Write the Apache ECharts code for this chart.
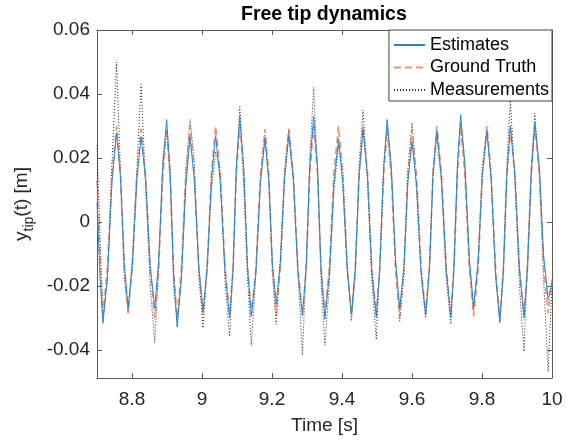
<!DOCTYPE html>
<html>
<head>
<meta charset="utf-8">
<script src="https://cdn.jsdelivr.net/npm/echarts@6/dist/echarts.min.js"></script>
<style>html,body{margin:0;padding:0;background:#fff;}#c{width:569px;height:440px;}</style>
</head>
<body>
<div id="c"></div>
<script>
const times = [8.700, 8.709, 8.717, 8.730, 8.743, 8.756, 8.767, 8.778, 8.789, 8.801, 8.814, 8.826, 8.839, 8.852, 8.865, 8.876, 8.888, 8.899, 8.909, 8.919, 8.929, 8.941, 8.954, 8.966, 8.978, 8.991, 9.003, 9.015, 9.027, 9.039, 9.052, 9.066, 9.079, 9.089, 9.098, 9.108, 9.119, 9.130, 9.141, 9.154, 9.167, 9.180, 9.191, 9.201, 9.212, 9.224, 9.236, 9.248, 9.261, 9.274, 9.287, 9.298, 9.308, 9.319, 9.330, 9.340, 9.351, 9.364, 9.377, 9.390, 9.402, 9.415, 9.427, 9.438, 9.449, 9.460, 9.473, 9.485, 9.498, 9.508, 9.519, 9.529, 9.541, 9.553, 9.565, 9.577, 9.588, 9.600, 9.613, 9.626, 9.639, 9.650, 9.660, 9.671, 9.684, 9.698, 9.711, 9.720, 9.730, 9.739, 9.751, 9.764, 9.776, 9.789, 9.801, 9.814, 9.826, 9.839, 9.851, 9.861, 9.871, 9.881, 9.894, 9.907, 9.920, 9.930, 9.941, 9.951, 9.964, 9.976, 9.989, 10.000];

const estimates = [0.006, -0.018, -0.0317, -0.0168, 0.0129, 0.0278, 0.0141, -0.0133, -0.027, -0.0136, 0.0132, 0.0266, 0.0132, -0.0136, -0.027, -0.0123, 0.0173, 0.032, 0.0158, -0.0167, -0.0329, -0.0180, 0.0117, 0.0266, 0.0130, -0.0144, -0.028, -0.0143, 0.0133, 0.027, 0.0128, -0.0158, -0.030, -0.0143, 0.0173, 0.033, 0.0174, -0.0140, -0.0296, -0.0157, 0.0121, 0.026, 0.0131, -0.0127, -0.0256, -0.0125, 0.0139, 0.027, 0.0129, -0.0153, -0.0294, -0.0138, 0.0174, 0.033, 0.0172, -0.0146, -0.0304, -0.0163, 0.0119, 0.026, 0.0123, -0.0153, -0.029, -0.0145, 0.0145, 0.029, 0.0143, -0.0151, -0.0298, -0.0144, 0.0166, 0.032, 0.0173, -0.0123, -0.027, -0.014, 0.012, 0.025, 0.0115, -0.0155, -0.029, -0.0146, 0.0142, 0.0286, 0.014, -0.0152, -0.0298, -0.0140, 0.0177, 0.0335, 0.0185, -0.0115, -0.0265, -0.0128, 0.0147, 0.0284, 0.0134, -0.0165, -0.0315, -0.0161, 0.0146, 0.030, 0.015, -0.015, -0.030, -0.0148, 0.0158, 0.031, 0.0172, -0.0104, -0.0242, -0.019];

const groundTruth = [0.013, -0.012, -0.029, -0.0143, 0.0153, 0.030, 0.0154, -0.0139, -0.0286, -0.0142, 0.0146, 0.029, 0.0142, -0.0152, -0.030, -0.0152, 0.0143, 0.029, 0.0142, -0.0152, -0.030, -0.015, 0.015, 0.030, 0.0152, -0.0142, -0.029, -0.0143, 0.0153, 0.030, 0.0153, -0.0143, -0.029, -0.0143, 0.0153, 0.030, 0.0153, -0.0143, -0.029, -0.0145, 0.0145, 0.029, 0.0145, -0.0145, -0.029, -0.0145, 0.0145, 0.029, 0.0145, -0.0145, -0.029, -0.0143, 0.0153, 0.030, 0.0153, -0.0143, -0.029, -0.0143, 0.0153, 0.030, 0.0153, -0.0143, -0.029, -0.0143, 0.0153, 0.030, 0.0153, -0.0143, -0.029, -0.0145, 0.0145, 0.029, 0.0143, -0.0151, -0.0298, -0.0151, 0.0143, 0.029, 0.0145, -0.0145, -0.029, -0.0143, 0.0153, 0.030, 0.0153, -0.0143, -0.029, -0.0143, 0.0153, 0.030, 0.0151, -0.0146, -0.0295, -0.0146, 0.0151, 0.030, 0.015, -0.015, -0.030, -0.0152, 0.0142, 0.029, 0.0145, -0.0145, -0.029, -0.0143, 0.0153, 0.030, 0.0154, -0.0136, -0.0285, -0.018];

const measurements = [0.024, -0.006, -0.030, -0.018, 0.019, 0.050, 0.016, -0.018, -0.028, -0.011, 0.017, 0.043, 0.011, -0.020, -0.0377, -0.015, 0.020, 0.029, 0.013, -0.020, -0.031, -0.017, 0.016, 0.032, 0.019, -0.017, -0.0332, -0.012, 0.010, 0.022, 0.016, -0.019, -0.0358, -0.013, 0.015, 0.036, 0.013, -0.017, -0.0387, -0.016, 0.013, 0.027, 0.012, -0.015, -0.032, -0.011, 0.016, 0.029, 0.015, -0.016, -0.0416, -0.012, 0.020, 0.042, 0.016, -0.018, -0.0386, -0.019, 0.010, 0.024, 0.016, -0.013, -0.031, -0.017, 0.018, 0.035, 0.012, -0.018, -0.0367, -0.013, 0.018, 0.030, 0.015, -0.011, -0.031, -0.016, 0.016, 0.031, 0.010, -0.017, -0.030, -0.013, 0.016, 0.027, 0.012, -0.018, -0.032, -0.012, 0.019, 0.031, 0.017, -0.014, -0.028, -0.011, 0.017, 0.029, 0.015, -0.018, -0.031, -0.014, 0.018, 0.038, 0.013, -0.020, -0.0405, -0.011, 0.018, 0.034, 0.014, -0.018, -0.0468, -0.020];

const xTicks = [8.8, 9, 9.2, 9.4, 9.6, 9.8, 10];
const yTicks = [-0.04, -0.02, 0, 0.02, 0.04, 0.06];
const seriesNames = ['Estimates', 'Ground Truth', 'Measurements'];

const FONT = '"Liberation Sans", Arial, Helvetica, sans-serif';
const AX = '#5a5a5a';
const TXT = '#262626';
const BLUE = '#2a86cc';
const ORANGE = 'rgba(226,110,70,0.72)';
const BLACK = '#222';

const pairs = vals => times.map((t, i) => [t, vals[i]]);

const chart = echarts.init(document.getElementById('c'), null, {renderer: 'canvas'});

const baseX = {
  type: 'value', min: 8.7, max: 10,
  axisLine: {show: true, onZero: false, lineStyle: {color: AX, width: 1}},
  axisTick: {show: true, inside: true, length: 5, customValues: xTicks, lineStyle: {color: AX}},
  splitLine: {show: false}
};
const baseY = {
  type: 'value', min: -0.0488, max: 0.06,
  axisLine: {show: true, onZero: false, lineStyle: {color: AX, width: 1}},
  axisTick: {show: true, inside: true, length: 5, customValues: yTicks, lineStyle: {color: AX}},
  splitLine: {show: false}
};

chart.setOption({
  animation: false,
  backgroundColor: '#fff',
  title: {
    text: 'Free tip dynamics', left: 241, top: 5, padding: 0,
    textStyle: {fontFamily: FONT, fontSize: 19.5, fontWeight: 'bold', color: '#000'}
  },
  legend: {
    data: seriesNames, orient: 'vertical', right: 17, top: 30,
    align: 'left', itemWidth: 31, itemHeight: 10, itemGap: 4.5,
    padding: [6, 3, 2, 4],
    backgroundColor: '#fff', borderColor: '#444', borderWidth: 1, borderRadius: 0,
    itemStyle: {opacity: 0},
    textStyle: {fontFamily: FONT, fontSize: 18, color: '#000'}
  },
  grid: {left: 97, top: 30, right: 17, bottom: 62, containLabel: false},
  xAxis: [
    Object.assign({}, baseX, {
      position: 'bottom',
      axisLabel: {customValues: xTicks, fontFamily: FONT, fontSize: 19, color: TXT, margin: 12},
      name: 'Time [s]', nameLocation: 'middle', nameGap: 38,
      nameTextStyle: {fontFamily: FONT, fontSize: 19, color: TXT}
    }),
    Object.assign({}, baseX, {position: 'top', axisLabel: {show: false}})
  ],
  yAxis: [
    Object.assign({}, baseY, {
      position: 'left',
      axisLabel: {customValues: yTicks, fontFamily: FONT, fontSize: 19, color: TXT, margin: 7},
      name: '{a|y}{b|tip}{a|(t) [m]}', nameLocation: 'middle', nameGap: 58,
      nameTextStyle: {
        fontFamily: FONT, color: TXT,
        rich: {
          a: {fontFamily: FONT, fontSize: 19, color: TXT, lineHeight: 28, verticalAlign: 'middle'},
          b: {fontFamily: FONT, fontSize: 14, color: TXT, lineHeight: 28, verticalAlign: 'bottom'}
        }
      }
    }),
    Object.assign({}, baseY, {position: 'right', axisLabel: {show: false}})
  ],
  series: [
    {
      name: 'Measurements', type: 'line', data: pairs(measurements),
      xAxisIndex: 0, yAxisIndex: 0, symbol: 'none', z: 2,
      lineStyle: {color: BLACK, width: 1, type: [1, 2]},
      itemStyle: {color: BLACK}
    },
    {
      name: 'Ground Truth', type: 'line', data: pairs(groundTruth),
      xAxisIndex: 0, yAxisIndex: 0, symbol: 'none', z: 3,
      lineStyle: {color: ORANGE, width: 1.7, type: [7, 4]},
      itemStyle: {color: ORANGE}
    },
    {
      name: 'Estimates', type: 'line', data: pairs(estimates),
      xAxisIndex: 0, yAxisIndex: 0, symbol: 'none', z: 4,
      lineStyle: {color: BLUE, width: 1},
      itemStyle: {color: BLUE}
    }
  ]
});
</script>
</body>
</html>
